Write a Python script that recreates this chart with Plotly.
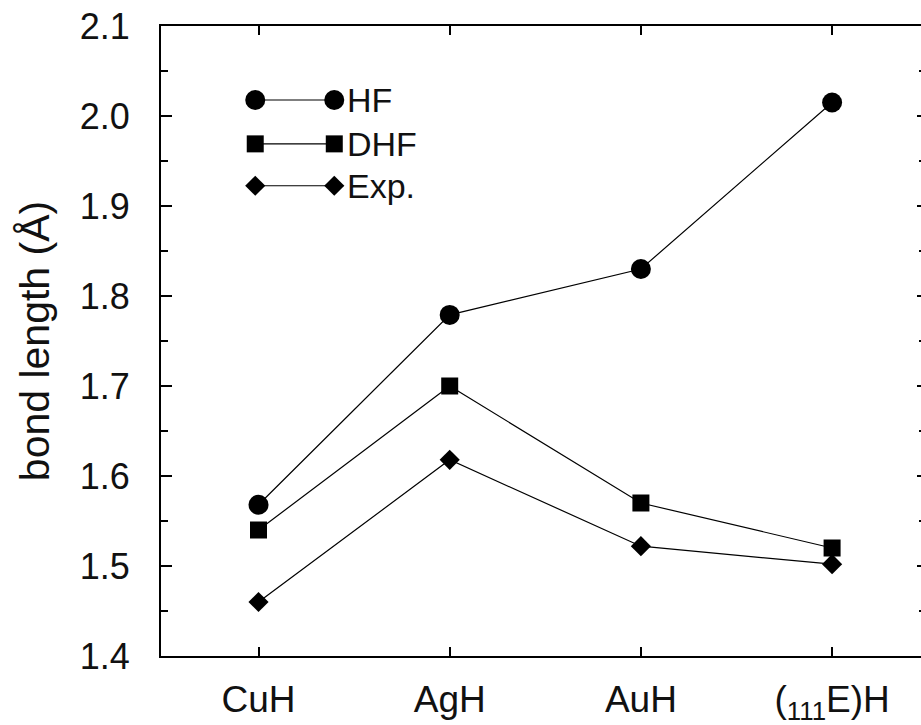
import plotly.graph_objects as go

# ---- data ----
categories = ["CuH", "AgH", "AuH", "(<sub>111</sub>E)H"]
hf_values = [1.568, 1.779, 1.830, 2.015]
dhf_values = [1.540, 1.700, 1.570, 1.520]
exp_values = [1.460, 1.618, 1.522, 1.502]
series_names = ["HF", "DHF", "Exp."]
y_ticks = [1.4, 1.5, 1.6, 1.7, 1.8, 1.9, 2.0, 2.1]
y_tick_labels = ["1.4", "1.5", "1.6", "1.7", "1.8", "1.9", "2.0", "2.1"]

# ---- style ----
FONT = "Liberation Sans, Arial, Helvetica, sans-serif"
symbols = ["circle", "square", "diamond"]
msizes = [20, 17, 15.5]
series = [hf_values, dhf_values, exp_values]
xpos = list(range(len(categories)))

fig = go.Figure()
for vals, name, sym, ms in zip(series, series_names, symbols, msizes):
    fig.add_trace(go.Scatter(
        x=xpos, y=vals, name=name, mode="lines+markers",
        line=dict(color="black", width=1.2),
        marker=dict(symbol=sym, size=ms, color="black"),
        showlegend=False, cliponaxis=False,
    ))

# custom legend (two markers joined by a line), in fractional plot coords
leg_x = [0.124, 0.228]
leg_y = [0.8825, 0.8129, 0.7464]
for name, sym, ms, ly in zip(series_names, symbols, msizes, leg_y):
    fig.add_trace(go.Scatter(
        x=leg_x, y=[ly, ly], mode="lines+markers", xaxis="x2", yaxis="y3",
        line=dict(color="black", width=1.2),
        marker=dict(symbol=sym, size=ms, color="black"),
        showlegend=False, hoverinfo="skip", cliponaxis=False,
    ))
    fig.add_annotation(x=0.242, y=ly, xref="paper", yref="paper", text=name,
                       showarrow=False, xanchor="left", yanchor="middle",
                       font=dict(family=FONT, size=34, color="#111111"))

# dummy trace so the right tick axis is drawn
fig.add_trace(go.Scatter(x=[None], y=[None], yaxis="y2", showlegend=False, hoverinfo="skip"))

fig.update_layout(
    width=921, height=725,
    margin=dict(l=161, r=0, t=26, b=63),
    paper_bgcolor="white", plot_bgcolor="white",
    showlegend=False,
    font=dict(family=FONT, color="#111111"),
    xaxis=dict(
        range=[-0.51, 3.465], tickmode="array", tickvals=xpos, ticktext=categories,
        ticks="inside", ticklen=9, tickwidth=1.5, tickcolor="black",
        showline=True, linecolor="black", linewidth=2, mirror="ticks",
        showgrid=False, zeroline=False,
        tickfont=dict(family=FONT, size=37, color="#111111"),
        ticklabelstandoff=10,
    ),
    yaxis=dict(
        range=[1.4, 2.1], tickmode="array", tickvals=y_ticks, ticktext=y_tick_labels,
        ticks="inside", ticklen=11, tickwidth=1.5, tickcolor="black",
        minor=dict(dtick=0.05, tick0=1.4, ticks="inside", ticklen=7, tickwidth=1.5, tickcolor="black"),
        showline=True, linecolor="black", linewidth=2, mirror=False,
        showgrid=False, zeroline=False,
        tickfont=dict(family=FONT, size=36, color="#111111"),
        ticklabelstandoff=22,
        title=dict(text="bond length (Å)", font=dict(family=FONT, size=41, color="#111111"), standoff=17),
    ),
    yaxis2=dict(
        overlaying="y", side="right", anchor="x", range=[1.4, 2.1],
        tickmode="array", tickvals=y_ticks, showticklabels=False,
        ticks="inside", ticklen=4, tickwidth=1.5, tickcolor="black",
        minor=dict(dtick=0.05, tick0=1.4, ticks="inside", ticklen=2, tickwidth=1.5, tickcolor="black"),
        showline=False, showgrid=False, zeroline=False,
    ),
    xaxis2=dict(overlaying="x", range=[0, 1], visible=False),
    yaxis3=dict(overlaying="y", anchor="x2", range=[0, 1], visible=False),
)

fig.write_html("out.html")
